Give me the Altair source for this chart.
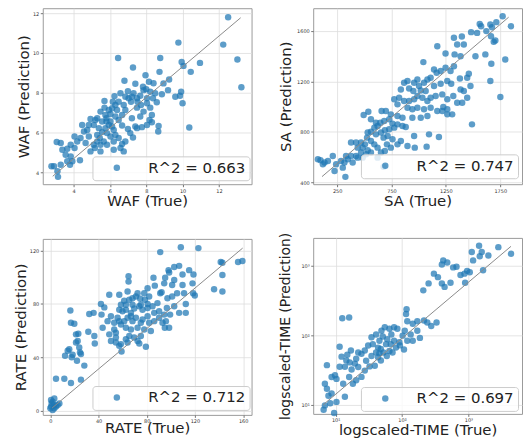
import altair as alt
import pandas as pd

# ---------------- data ----------------
WAF_TRUE = [12.51, 9.77, 12.24, 13.02, 13.24, 6.45, 8.77, 9.95, 10.05, 10.96,
            10.45, 8.73, 7.27, 7.96, 6.8, 7.4, 8.15, 8.4, 8.95, 9.26,
            9.92, 9.86, 9.6, 10.0, 10.37, 8.68, 8.66, 9.2, 8.86, 8.58,
            8.04, 7.85, 7.67, 7.3, 6.99, 6.25, 5.7, 5.7, 6.12, 6.48,
            6.76, 7.16, 7.49, 7.85, 8.22, 8.31, 8.18, 7.67, 7.21, 7.4,
            7.76, 7.27, 6.99, 6.67, 6.48, 6.3, 6.03, 5.81, 5.57, 5.94,
            6.21, 5.84, 5.57, 5.44, 5.66, 6.03, 6.48, 6.67, 6.58, 6.21,
            5.48, 5.17, 4.93, 4.66, 4.84, 4.75, 4.84, 4.93, 4.47, 4.38,
            4.05, 4.2, 3.84, 4.05, 3.65, 3.38, 3.29, 3.07, 3.56, 3.84,
            3.65, 3.8, 3.93, 4.35, 3.29, 2.92, 2.78, 3.11, 3.14, 4.57,
            5.3, 5.39, 5.11, 5.2, 5.48, 5.3, 5.75, 5.94, 6.39, 6.67,
            6.85, 7.03, 7.21, 7.49, 7.52, 7.71, 8.04, 8.37, 8.49, 7.82,
            8.0, 8.22, 6.85, 6.58, 6.16, 6.3, 5.81, 6.03, 6.12, 6.3,
            5.75, 5.3, 5.11, 5.48, 5.84, 6.21, 6.76, 6.85, 7.12, 7.49,
            8.04, 8.31]
WAF_PRED = [11.8, 10.52, 10.42, 9.67, 8.28, 9.75, 9.75, 9.55, 9.35, 9.5,
            9.05, 9.05, 9.27, 8.88, 8.6, 8.45, 8.55, 8.48, 8.47, 8.67,
            8.05, 7.85, 7.8, 7.47, 6.25, 6.33, 6.05, 8.13, 7.92, 7.52,
            7.72, 8.13, 7.85, 7.97, 8.08, 7.83, 7.58, 7.25, 7.22, 7.55,
            7.38, 7.55, 7.25, 7.05, 7.25, 6.88, 6.63, 6.8, 6.72, 6.3,
            6.27, 5.75, 6.18, 6.35, 6.63, 6.8, 6.93, 6.72, 6.55, 6.38,
            6.13, 5.97, 6.02, 5.72, 5.55, 5.8, 5.72, 5.42, 5.22, 5.13,
            5.38, 5.22, 5.05, 5.47, 5.8, 6.13, 6.38, 6.68, 6.38, 5.72,
            5.8, 5.55, 5.38, 5.22, 5.18, 5.13, 5.47, 5.52, 4.88, 4.8,
            4.55, 4.38, 4.55, 4.6, 4.38, 4.3, 4.3, 4.05, 3.77, 6.05,
            5.88, 6.22, 6.38, 6.63, 7.05, 6.72, 6.88, 7.13, 7.13, 6.88,
            7.13, 7.72, 7.8, 7.72, 7.55, 7.38, 7.47, 7.72, 7.97, 8.3,
            8.18, 8.05, 7.8, 7.97, 7.55, 7.38, 6.55, 6.55, 6.3, 5.88,
            6.22, 5.55, 5.38, 5.05, 5.38, 5.55, 5.05, 5.55, 5.97, 6.22,
            6.38, 6.52]
WAF_LINE_X = [2.85, 13.2]
WAF_LINE_Y = [3.8, 11.77]

SA_TRUE = [1772, 1848, 1714, 1659, 1674, 1561, 1574, 1537, 1622, 1482,
           1397, 1324, 1354, 1415, 1665, 1705, 1690, 1613, 1668, 1796,
           1659, 1751, 1522, 1330, 1385, 1247, 1171, 1043, 1324, 1293,
           1247, 1202, 1165, 1141, 1110, 1080, 1049, 1003, 988, 958,
           897, 866, 836, 912, 951, 1019, 1064, 1141, 1202, 1263,
           1299, 1379, 1446, 1461, 1385, 1415, 1476, 1446, 1400, 1354,
           1318, 1263, 1217, 1156, 1110, 1080, 1034, 988, 958, 912,
           866, 820, 775, 805, 897, 942, 988, 1049, 1110, 1171,
           1226, 1263, 1308, 1263, 1217, 1490, 1080, 1019, 942, 851,
           805, 744, 698, 659, 537, 494, 561, 607, 647, 683,
           729, 759, 805, 851, 775, 729, 689, 653, 607, 561,
           531, 592, 622, 881, 958, 1095, 1186, 1073, 964, 897,
           836, 805, 759, 714, 677, 708, 744, 689, 622, 592,
           561, 525, 506, 470, 424, 378, 439, 485, 531, 561,
           516, 470, 424, 378, 332, 348, 393, 439, 485, 317,
           286, 241, 210, 165, 134, 97, 73, 119, 302, 226,
           326, 677, 622, 653]
SA_PRED = [1715, 1636, 1668, 1649, 1628, 1654, 1636, 1583, 1597, 1589,
           1555, 1544, 1491, 1491, 1557, 1523, 1512, 1413, 1339, 1373,
           1202, 1076, 1399, 1413, 1399, 1420, 1478, 1352, 1320, 1281,
           1307, 1281, 1268, 1294, 1228, 1215, 1189, 1163, 1215, 1189,
           1202, 1189, 1136, 1144, 1123, 1128, 1123, 1163, 1181, 1202,
           1181, 1223, 1228, 1260, 1136, 1123, 1163, 1071, 1031, 1031,
           1084, 1058, 1097, 1084, 1071, 1044, 1071, 1084, 1058, 1044,
           1044, 1071, 1058, 1018, 992, 979, 992, 979, 992, 965,
           997, 979, 939, 939, 965, 860, 926, 913, 913, 913,
           926, 939, 965, 965, 960, 934, 900, 873, 873, 886,
           900, 866, 860, 847, 834, 821, 813, 795, 781, 802,
           795, 834, 847, 839, 768, 781, 760, 684, 676, 689,
           729, 702, 742, 768, 755, 702, 676, 650, 676, 702,
           729, 755, 702, 716, 716, 716, 676, 676, 655, 637,
           624, 637, 610, 610, 610, 584, 558, 597, 597, 558,
           571, 545, 610, 571, 558, 576, 584, 545, 518, 492,
           445, 524, 597, 637]
SA_LINE_X = [111, 1827]
SA_LINE_Y = [447, 1707]

RATE_TRUE = [108.3, 122.9, 91.2, 141.4, 142.8, 155.8, 159.4, 142.8, 135.9, 142.8,
             64.9, 64.9, 98.1, 98.6, 102.8, 106.9, 115.2, 118.8, 109.7, 102.8,
             95.3, 85.6, 86.7, 94.5, 101.1, 109.7, 118.0, 111.0, 118.5, 119.9,
             112.4, 106.9, 112.4, 99.4, 102.8, 96.7, 91.2, 92.3, 88.9, 82.0,
             78.5, 74.6, 71.0, 65.5, 61.3, 57.2, 48.9, 42.0, 44.8, 35.9,
             32.3, 31.5, 36.5, 36.9, 43.4, 48.9, 50.3, 54.4, 53.0, 55.8,
             59.9, 62.7, 66.9, 69.6, 73.8, 76.5, 80.7, 84.8, 86.2, 80.7,
             76.5, 71.0, 68.2, 64.1, 61.3, 58.6, 62.7, 66.9, 72.4, 75.1,
             82.0, 86.2, 90.3, 94.5, 90.3, 95.9, 95.0, 98.6, 93.1, 83.4,
             77.9, 75.1, 72.4, 73.8, 79.3, 69.6, 65.5, 62.7, 64.1, 58.6,
             57.2, 54.4, 59.1, 54.4, 53.0, 47.5, 50.3, 57.2, 58.6, 62.7,
             68.2, 75.1, 80.7, 68.2, 72.4, 64.1, 80.7, 77.9, 97.2, 101.1,
             105.2, 66.9, 57.2, 42.5, 16.6, 17.1, 19.9, 21.3, 23.2, 22.7,
             21.3, 24.0, 24.6, 25.4, 15.7, 14.4, 18.5, 17.7, 12.2, 22.1,
             28.2, 17.1, 11.6, 4.7, 25.4, 0.6, 1.9, 1.1, 2.8, 0.6,
             3.3, 4.7, 1.9, 0.0, 6.1, 7.5, 3.3]
RATE_PRED = [122.4, 121.7, 118.7, 111.3, 110.8, 111.3, 112.1, 101.5, 90.9, 89.2,
             100.7, 96.6, 105.2, 103.4, 107.6, 108.4, 105.2, 102.0, 102.0, 97.8,
             99.5, 99.5, 93.6, 95.3, 94.1, 94.1, 95.3, 87.9, 87.9, 86.2,
             79.8, 73.2, 73.2, 71.9, 78.1, 76.8, 87.9, 88.7, 80.5, 85.5,
             83.0, 83.7, 85.5, 83.0, 82.3, 86.7, 86.7, 79.8, 77.3, 73.2,
             72.4, 59.1, 55.9, 50.2, 62.1, 57.1, 52.2, 58.4, 65.8, 69.5,
             74.4, 75.6, 73.2, 76.4, 78.1, 75.6, 76.8, 78.1, 73.2, 70.7,
             68.2, 69.5, 67.0, 69.5, 67.0, 64.5, 62.1, 60.8, 62.1, 65.8,
             65.8, 67.0, 69.5, 71.9, 74.4, 67.0, 62.1, 62.1, 65.8, 59.6,
             60.8, 55.9, 52.2, 50.2, 47.8, 54.7, 55.9, 53.4, 51.0, 49.8,
             48.5, 51.0, 44.3, 54.7, 60.8, 67.0, 70.7, 75.6, 79.3, 79.3,
             79.3, 79.3, 79.8, 84.2, 87.9, 89.2, 91.6, 87.9, 84.2, 85.5,
             87.9, 70.7, 67.0, 71.9, 74.9, 65.8, 65.0, 57.1, 57.6, 52.2,
             51.0, 47.3, 43.6, 42.4, 46.0, 44.8, 41.9, 39.9, 41.1, 37.4,
             33.7, 20.7, 23.9, 23.9, 23.2, 7.9, 6.7, 5.4, 4.2, 3.0,
             1.7, 3.0, 0.5, 1.7, 4.2, 5.4, 9.1]
RATE_LINE_X = [1.5, 159.6]
RATE_LINE_Y = [2.0, 121.7]

TIME_TRUE = [6.6, 6.9, 9.5, 10.3, 7.8, 7.4, 6.9, 8.7, 10.3, 9.8,
             7.4, 11.5, 12.3, 14.5, 17, 12.6, 16, 16, 13, 17.4,
             16.3, 19.5, 20.4, 21.9, 24.5, 21.9, 27.5, 28.8, 27.5, 24.5,
             20.4, 18.2, 32.4, 38.9, 34.7, 40.7, 30.9, 36.3, 43.6, 47.9,
             45.7, 51.3, 40.7, 34.7, 49, 55, 64.6, 69, 75.9, 85,
             60, 57.5, 67.6, 75.9, 81, 91, 102, 110, 120, 117,
             115, 120, 135, 145, 186, 107, 93, 72, 59, 48,
             43.6, 52.5, 45.7, 64.6, 145, 170, 170, 214, 240, 275,
             331, 209, 251, 302, 398, 417, 479, 347, 398, 437,
             537, 589, 661, 759, 871, 955, 1047, 891, 1479, 1175,
             1122, 1445, 1585, 1995, 2818, 1660, 15, 11.5, 13.8, 8.7,
             8.3, 13.8, 4370]
TIME_PRED = [8.5, 9.8, 7.6, 11, 13.5, 17, 20, 25, 23.5, 26.5,
             37, 35, 49, 43, 60, 174, 178, 25, 20, 32,
             40.5, 38.9, 45.7, 34.7, 53.7, 56, 60, 42.7, 30.9, 25.1,
             22.4, 20, 35.5, 36.3, 50, 56, 70.8, 74, 66, 63,
             83, 95, 102, 93, 115, 129, 123, 102, 129, 123,
             87, 74, 74, 83, 66, 79, 98, 115, 158, 234,
             200, 83, 102, 83, 91, 62, 71, 56, 50, 43,
             48, 56, 55, 59, 145, 115, 158, 162, 151, 135,
             151, 437, 550, 759, 1023, 1175, 1096, 676, 550, 490,
             562, 933, 955, 724, 759, 832, 794, 562, 1349, 1175,
             1549, 1905, 1549, 1380, 1820, 851, 52, 68, 35, 14.5,
             10.5, 13, 1460]
TIME_LINE_X = [6.5, 4370]
TIME_LINE_Y = [10, 1870]

PANELS = [
    dict(xs=WAF_TRUE, ys=WAF_PRED, lx=WAF_LINE_X, ly=WAF_LINE_Y, label="R^2 = 0.663",
         xdom=[2.3, 13.8], ydom=[3.4, 12.25], xticks=[4, 6, 8, 10, 12],
         yticks=[4, 5, 6, 7, 8, 9, 10, 11, 12], xtitle="WAF (True)", ytitle="WAF (Prediction)",
         log=False, ytp=1.5, xtp=1, lx0=50, ly0=149, ytfs=15),
    dict(xs=SA_TRUE, ys=SA_PRED, lx=SA_LINE_X, ly=SA_LINE_Y, label="R^2 = 0.747",
         xdom=[30, 1950], ydom=[387, 1778], xticks=[250, 500, 750, 1000, 1250, 1500, 1750],
         yticks=[400, 600, 800, 1000, 1200, 1400, 1600], xtitle="SA (True)", ytitle="SA (Prediction)",
         log=False, ytp=9.5, xtp=1, lx0=48, ly0=147, ytfs=15),
    dict(xs=RATE_TRUE, ys=RATE_PRED, lx=RATE_LINE_X, ly=RATE_LINE_Y, label="R^2 = 0.712",
         xdom=[-6.3, 167], ydom=[-3.2, 128.6], xticks=[0, 20, 40, 60, 80, 100, 120, 140, 160],
         yticks=[0, 20, 40, 60, 80, 100, 120], xtitle="RATE (True)", ytitle="RATE (Prediction)",
         log=False, ytp=4.5, xtp=-2, lx0=50, ly0=148, ytfs=15),
    dict(xs=TIME_TRUE, ys=TIME_PRED, lx=TIME_LINE_X, ly=TIME_LINE_Y, label="R^2 = 0.697",
         xdom=[4.6, 6400], ydom=[7.4, 2470], xticks=[10, 100, 1000],
         yticks=[10, 100, 1000], xtitle="logscaled-TIME (True)", ytitle="logscaled-TIME (Prediction)",
         log=True, ytp=11, xtp=1, lx0=48, ly0=150, ytfs=14),
]

W, H = 210, 177
BLUE = "#1f77b4"
SUP = "datum.value == 10 ? '10\u00b9' : datum.value == 100 ? '10\u00b2' : '10\u00b3'"


def panel(p):
    df = pd.DataFrame({"t": p["xs"], "p": p["ys"], "lab": p["label"]})
    ln = pd.DataFrame({"t": p["lx"], "p": p["ly"]})
    stype = "log" if p["log"] else "linear"
    common_x = dict(values=p["xticks"], title=p["xtitle"], titlePadding=p["xtp"],
                    minExtent=8, maxExtent=8)
    common_y = dict(values=p["yticks"], title=p["ytitle"], titlePadding=p["ytp"],
                    minExtent=10, maxExtent=10, titleFontSize=p["ytfs"])
    if p["log"]:
        xaxis = alt.Axis(labelExpr=SUP, **common_x)
        yaxis = alt.Axis(labelExpr=SUP, **common_y)
    else:
        xaxis = alt.Axis(format="d", **common_x)
        yaxis = alt.Axis(format="d", **common_y)
    x = alt.X("t:Q", scale=alt.Scale(type=stype, domain=p["xdom"], nice=False, zero=False), axis=xaxis)
    y = alt.Y("p:Q", scale=alt.Scale(type=stype, domain=p["ydom"], nice=False, zero=False), axis=yaxis)
    pts = alt.Chart(df).mark_circle(size=42, opacity=0.72).encode(
        x=x, y=y,
        color=alt.Color("lab:N", scale=alt.Scale(range=[BLUE]),
                        legend=alt.Legend(title=None, orient="none", legendX=p["lx0"], legendY=p["ly0"],
                                          fillColor="rgba(255,255,255,0.8)", strokeColor="#cccccc",
                                          cornerRadius=3, padding=4, labelFontSize=15,
                                          labelFont="DejaVu Sans", labelColor="#222222",
                                          symbolType="circle", symbolSize=42, symbolOpacity=0.72,
                                          symbolOffset=13, labelOffset=24)),
    )
    line = alt.Chart(ln).mark_line(color="#8a8a8a", strokeWidth=1).encode(x="t:Q", y="p:Q")
    return alt.layer(pts, line).properties(width=W, height=H)


col1 = alt.vconcat(panel(PANELS[0]), panel(PANELS[2]), spacing=29).resolve_scale(color="independent")
col2 = alt.vconcat(panel(PANELS[1]), panel(PANELS[3]), spacing=22).resolve_scale(color="independent")
chart = alt.hconcat(col1, col2, spacing=25).resolve_scale(color="independent").properties(
    padding={"left": 13, "top": 6, "right": 0, "bottom": 0}
).configure_view(stroke="#9a9a9a", strokeWidth=1).configure_axis(
    labelFontSize=5, labelFont="DejaVu Sans", labelColor="#333333", labelPadding=1.5,
    labelOverlap=False, tickSize=2.5, tickColor="#555555", tickWidth=0.8, domain=False,
    gridColor="#dddddd", gridWidth=0.8,
    titleFont="DejaVu Sans", titleFontSize=15, titleFontWeight="normal", titleColor="#222222",
)

chart.save("out.html", embed_options={"renderer": "svg", "actions": False})
